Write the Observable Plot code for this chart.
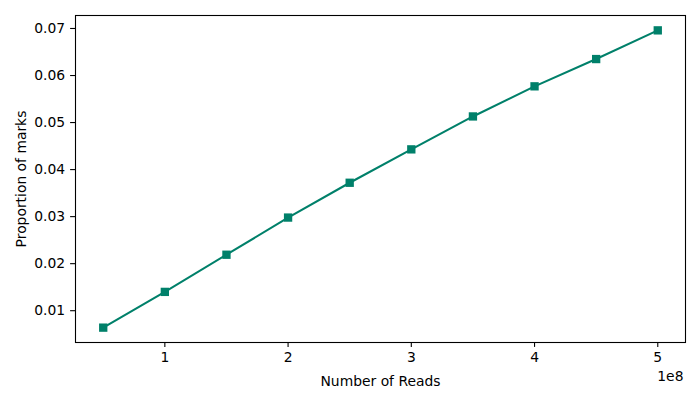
<!DOCTYPE html>
<html>
<head>
<meta charset="utf-8">
<script src="https://cdn.jsdelivr.net/npm/d3@7"></script>
<script src="https://cdn.jsdelivr.net/npm/@observablehq/plot@0.6"></script>
<style>
  html, body { margin: 0; padding: 0; background: #fff; }
</style>
</head>
<body>
<div id="chart"></div>
<script>
const reads = [0.5e8, 1e8, 1.5e8, 2e8, 2.5e8, 3e8, 3.5e8, 4e8, 4.5e8, 5e8];
const proportions = [0.0064, 0.0140, 0.0219, 0.0298, 0.0372, 0.0443, 0.0513, 0.0577, 0.0635, 0.0696];
const xTicks = [1e8, 2e8, 3e8, 4e8, 5e8];
const yTicks = [0.01, 0.02, 0.03, 0.04, 0.05, 0.06, 0.07];
const xLabel = "Number of Reads";
const yLabel = "Proportion of marks";
const offsetText = "1e8";

const data = reads.map((r, i) => ({reads: r, prop: proportions[i]}));
const color = "#00806a";
const fs = 13.89;

const chart = Plot.plot({
  width: 700,
  height: 400,
  marginLeft: 75,
  marginRight: 15,
  marginTop: 15,
  marginBottom: 58,
  style: {fontFamily: "DejaVu Sans", fontSize: fs + "px", color: "black", background: "white"},
  x: {domain: [0.275e8, 5.225e8]},
  y: {domain: [0.00324, 0.07276]},
  marks: [
    Plot.axisX({ticks: xTicks, tickFormat: d => String(d / 1e8), tickSize: 4.9, tickPadding: 4.5, strokeWidth: 1.1,
      label: xLabel, labelAnchor: "center", labelArrow: "none", labelOffset: 43}),
    Plot.axisY({ticks: yTicks, tickFormat: d3.format(".2f"), tickSize: 4.9, tickPadding: 5.5, strokeWidth: 1.1,
      label: yLabel, labelAnchor: "center", labelArrow: "none", labelOffset: 59}),
    Plot.text([offsetText], {frameAnchor: "bottom-right", textAnchor: "end", dy: 38, dx: -2, fontSize: fs}),
    Plot.line(data, {x: "reads", y: "prop", stroke: color, strokeWidth: 2.08}),
    Plot.dot(data, {x: "reads", y: "prop", symbol: "square", r: 4.7, fill: color, stroke: "none"}),
    Plot.frame({stroke: "black", strokeWidth: 1.1})
  ]
});
document.getElementById("chart").appendChild(chart);
</script>
</body>
</html>
